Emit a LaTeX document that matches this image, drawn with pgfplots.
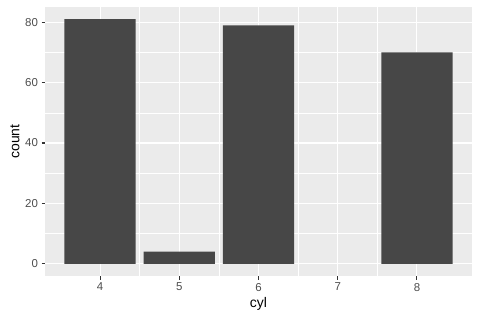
\documentclass[border=0pt]{standalone}
\usepackage{pgfplots}
\pgfplotsset{compat=1.18}
\usepackage{fontspec}
\setmainfont{Liberation Sans}
\definecolor{panel}{HTML}{EBEBEB}
\definecolor{barfill}{HTML}{474747}
\definecolor{ticktext}{HTML}{4D4D4D}
\definecolor{tickcol}{HTML}{333333}
\begin{document}
\begin{tikzpicture}[x=1bp,y=1bp]
\path[use as bounding box] (0,0) rectangle (480,320);
\begin{axis}[
  at={(45bp,44bp)}, anchor=south west,
  scale only axis, width=427bp, height=269bp,
  xmin=3.305, xmax=8.695, ymin=-4.05, ymax=85.05,
  axis background/.style={fill=panel},
  axis line style={draw=none},
  xtick={4,5,6,7,8}, ytick={0,20,40,60,80},
  minor xtick={4.5,5.5,6.5,7.5}, minor ytick={10,30,50,70},
  grid=both,
  major grid style={white, line width=1.07pt},
  minor grid style={white, line width=0.53pt},
  tick style={tickcol, line width=1.07pt},
  major tick length=3.5bp, minor tick length=0pt,
  tick align=outside,
  xtick pos=bottom, ytick pos=left,
  ticklabel style={font=\fontsize{11.5}{13}\selectfont, text=ticktext},
  /pgf/number format/assume math mode=true,
  xlabel={cyl}, ylabel={count},
  label style={font=\fontsize{14}{16}\selectfont},
  xlabel style={yshift=1bp},
  ylabel style={yshift=-1bp},
  axis on top=false,
]
\addplot[ybar, bar width=0.9, fill=barfill, draw=none, bar shift=0pt] coordinates {(4,81) (5,4) (6,79) (8,70)};
\end{axis}
\end{tikzpicture}
\end{document}
